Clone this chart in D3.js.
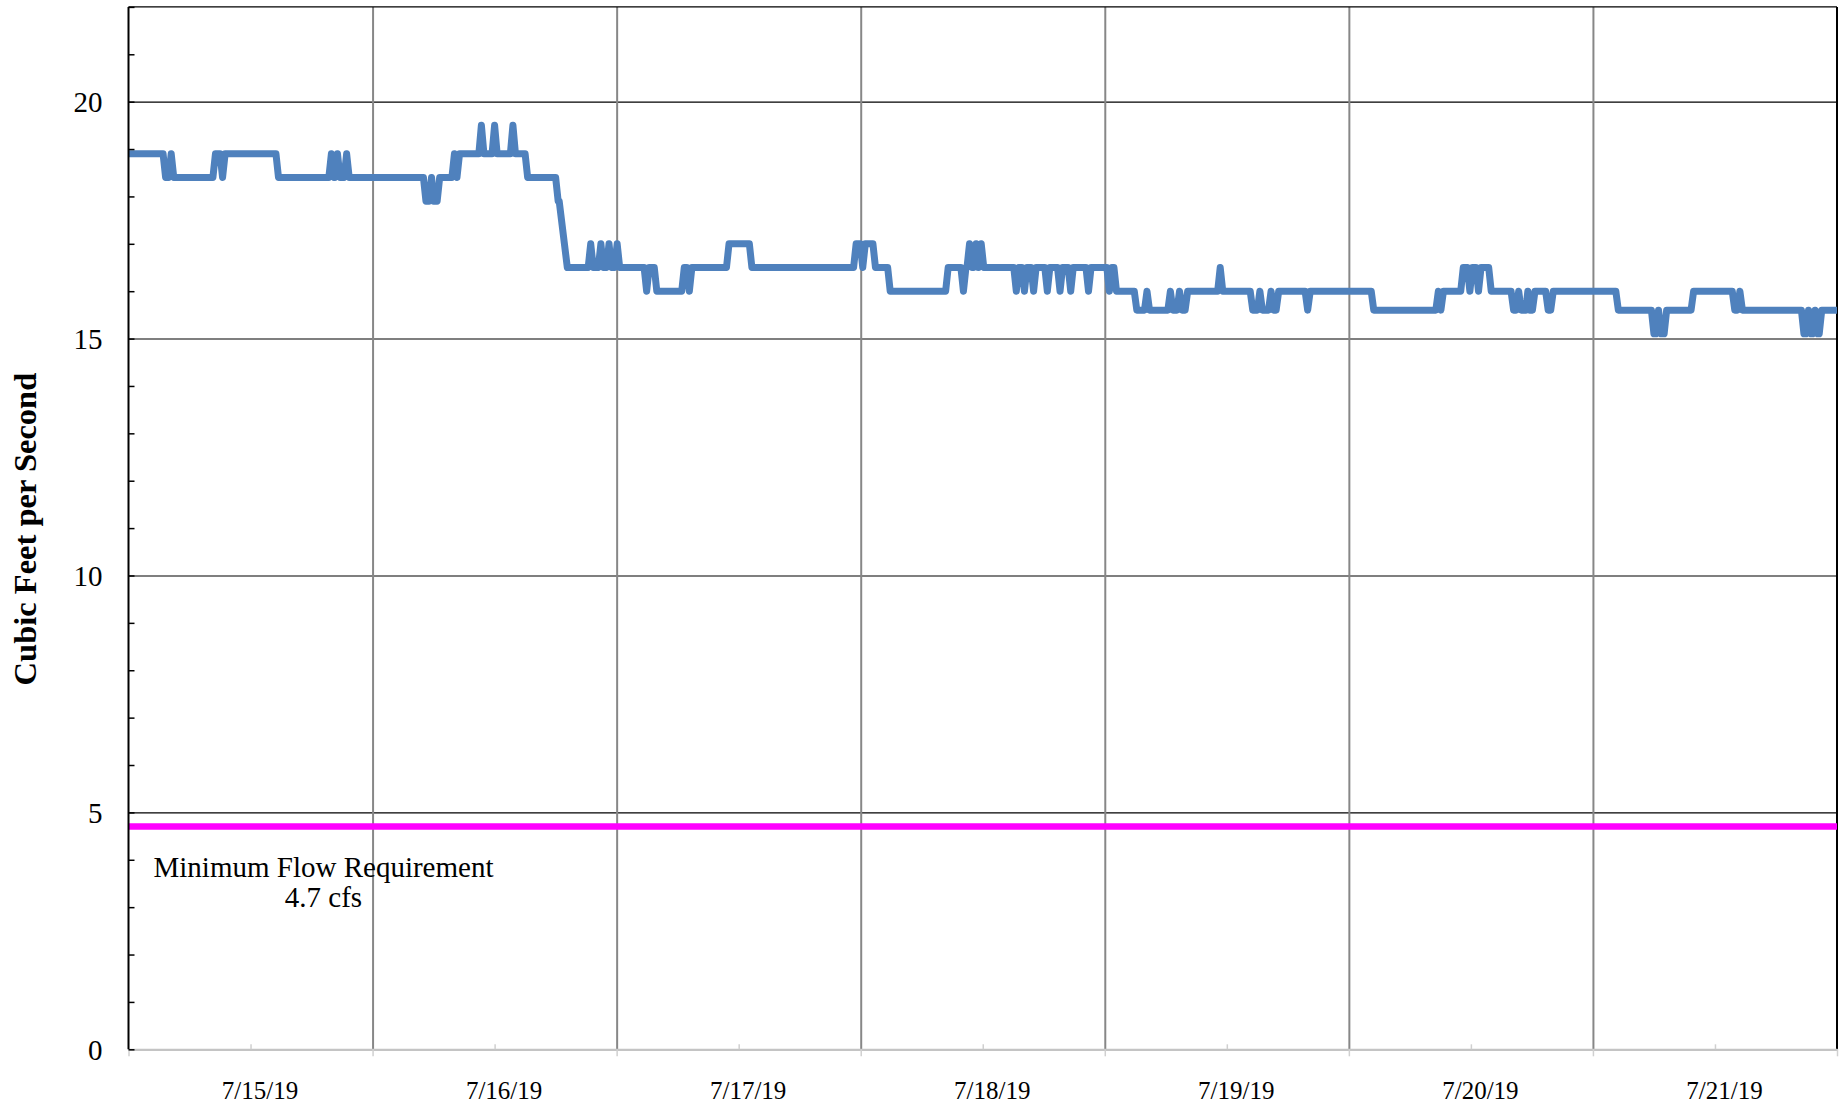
<!DOCTYPE html>
<html>
<head>
<meta charset="utf-8">
<script src="https://cdn.jsdelivr.net/npm/d3@7"></script>
<style>
  html, body { margin: 0; padding: 0; background: #ffffff; }
  svg { display: block; }
</style>
</head>
<body>
<svg id="chart" width="1839" height="1105"></svg>
<script>
// ---------------- DATA ----------------
// Hours after 7/15/19 00:00 at each vertex of the flow trace
const flowHours = [
  0, 3.4, 3.65, 3.95, 4.2, 4.45,
  8.3, 8.55, 9.0, 9.25, 9.5,
  14.5, 14.75,
  19.7, 19.95, 20.2, 20.3, 20.55, 20.8, 21.2, 21.45, 21.7,
  29.0, 29.25, 29.55, 29.8, 30.0, 30.35, 30.6,
  31.8, 32.05, 32.3, 32.55,
  34.45, 34.7, 34.95,
  35.75, 36.0, 36.25,
  37.55, 37.8, 38.05,
  39.0, 39.25,
  42.0, 42.25, 42.35, 43.15,
  45.2, 45.45, 45.7, 46.2, 46.45, 46.7, 47.0, 47.25, 47.5, 47.8, 48.05, 48.3,
  50.7, 50.95, 51.2, 51.7, 51.95,
  54.4, 54.65, 54.9, 55.15, 55.4,
  58.8, 59.05, 61.05, 61.3,
  71.3, 71.55, 71.95, 72.2, 72.45, 73.2, 73.45,
  74.65, 74.9,
  80.35, 80.6, 81.85, 82.1, 82.35, 82.45, 82.7, 82.95, 83.1, 83.35, 83.55, 83.6, 83.85, 84.1,
  87.05, 87.3, 87.55,
  87.85, 88.1, 88.35,
  88.75, 89.0, 89.25,
  90.1, 90.35, 90.6,
  91.35, 91.6, 91.85,
  92.4, 92.65, 92.9,
  94.15, 94.4, 94.65,
  96.2, 96.45, 96.7,
  96.9, 97.15,
  98.9, 99.15, 99.9, 100.15, 100.4,
  102.2, 102.45, 102.7, 103.1, 103.35, 103.6, 103.9, 104.15,
  107.1, 107.35, 107.6,
  110.3, 110.55, 111.0, 111.25, 111.5, 112.1, 112.35, 112.6, 112.85, 113.1,
  115.7, 115.95, 116.2,
  122.2, 122.45,
  128.55, 128.8, 129.05, 129.3,
  131.0, 131.25, 131.65, 131.9, 132.15, 132.5, 132.75, 133.0, 133.75, 134.0,
  135.95, 136.2, 136.45, 136.7, 136.95, 137.4, 137.6, 137.8, 138.05, 138.3,
  139.35, 139.6, 139.85, 140.1,
  146.25, 146.5,
  149.75, 150.0, 150.2, 150.45, 150.7, 151.0, 151.25,
  153.65, 153.9,
  157.7, 157.95, 158.2, 158.45, 158.7,
  164.5, 164.75, 164.95, 165.2, 165.45, 165.6, 165.85, 166.1, 166.25, 166.5,
  168
];
// Flow (cfs) at each vertex
const flowCfs = [
  18.9, 18.9, 18.4, 18.4, 18.9, 18.4,
  18.4, 18.9, 18.9, 18.4, 18.9,
  18.9, 18.4,
  18.4, 18.9, 18.4, 18.4, 18.9, 18.4, 18.4, 18.9, 18.4,
  18.4, 17.9, 17.9, 18.4, 17.9, 17.9, 18.4,
  18.4, 18.9, 18.4, 18.9,
  18.9, 19.5, 18.9,
  18.9, 19.5, 18.9,
  18.9, 19.5, 18.9,
  18.9, 18.4,
  18.4, 17.9, 17.9, 16.5,
  16.5, 17.0, 16.5, 16.5, 17.0, 16.5, 16.5, 17.0, 16.5, 16.5, 17.0, 16.5,
  16.5, 16.0, 16.5, 16.5, 16.0,
  16.0, 16.5, 16.5, 16.0, 16.5,
  16.5, 17.0, 17.0, 16.5,
  16.5, 17.0, 17.0, 16.5, 17.0, 17.0, 16.5,
  16.5, 16.0,
  16.0, 16.5, 16.5, 16.0, 16.5, 16.5, 17.0, 16.5, 16.5, 17.0, 16.5, 16.5, 17.0, 16.5,
  16.5, 16.0, 16.5,
  16.5, 16.0, 16.5,
  16.5, 16.0, 16.5,
  16.5, 16.0, 16.5,
  16.5, 16.0, 16.5,
  16.5, 16.0, 16.5,
  16.5, 16.0, 16.5,
  16.5, 16.0, 16.5,
  16.5, 16.0,
  16.0, 15.6, 15.6, 16.0, 15.6,
  15.6, 16.0, 15.6, 15.6, 16.0, 15.6, 15.6, 16.0,
  16.0, 16.5, 16.0,
  16.0, 15.6, 15.6, 16.0, 15.6, 15.6, 16.0, 15.6, 15.6, 16.0,
  16.0, 15.6, 16.0,
  16.0, 15.6,
  15.6, 16.0, 15.6, 16.0,
  16.0, 16.5, 16.5, 16.0, 16.5, 16.5, 16.0, 16.5, 16.5, 16.0,
  16.0, 15.6, 15.6, 16.0, 15.6, 15.6, 16.0, 15.6, 15.6, 16.0,
  16.0, 15.6, 15.6, 16.0,
  16.0, 15.6,
  15.6, 15.1, 15.1, 15.6, 15.1, 15.1, 15.6,
  15.6, 16.0,
  16.0, 15.6, 15.6, 16.0, 15.6,
  15.6, 15.1, 15.1, 15.6, 15.1, 15.1, 15.6, 15.1, 15.1, 15.6,
  15.6
];
const dayLabels = ["7/15/19", "7/16/19", "7/17/19", "7/18/19", "7/19/19", "7/20/19", "7/21/19"];
const yLabelTicks = [0, 5, 10, 15, 20];
const yGridTicks = [5, 10, 15, 20];
const yMinorTicks = d3.range(0, 23, 1);
const yMax = 22;
const minFlow = 4.7;
const minFlowText = ["Minimum Flow Requirement", "4.7 cfs"];
const yTitle = "Cubic Feet per Second";

// ---------------- LAYOUT ----------------
const pL = 128.5, pR = 1837, pT = 6.9, pB = 1049.3;
const serif = "'Liberation Serif', 'Times New Roman', Times, serif";
const t0 = new Date(2019, 6, 15, 0, 0, 0);
const t1 = new Date(2019, 6, 22, 0, 0, 0);
const hourToDate = h => new Date(t0.getTime() + h * 3600000);

const x = d3.scaleTime().domain([t0, t1]).range([pL, pR]);
const y = d3.scaleLinear().domain([0, yMax]).range([pB, pT]);

const svg = d3.select("#chart");
svg.append("rect").attr("width", 1839).attr("height", 1105).attr("fill", "#ffffff");

const midnights = d3.timeDay.range(t0, d3.timeDay.offset(t1, 1));        // 8 midnights
const noons = midnights.slice(0, 7).map(d => d3.timeHour.offset(d, 12));

// horizontal gridlines (black, thin)
svg.append("g")
  .attr("transform", `translate(${pL},0)`)
  .call(d3.axisLeft(y).tickValues(yGridTicks).tickSize(-(pR - pL)).tickFormat(""))
  .call(g => g.select(".domain").remove())
  .call(g => g.selectAll("line").attr("stroke", "#000").attr("stroke-width", 1.1));

// vertical gridlines at each midnight (gray)
svg.append("g")
  .attr("transform", `translate(0,${pB})`)
  .call(d3.axisBottom(x).tickValues(midnights.slice(1, 7)).tickSize(-(pB - pT)).tickFormat(""))
  .call(g => g.select(".domain").remove())
  .call(g => g.selectAll("line").attr("stroke", "#878787").attr("stroke-width", 2));

// top and right frame
svg.append("line").attr("x1", pL).attr("x2", pR).attr("y1", pT).attr("y2", pT)
  .attr("stroke", "#000").attr("stroke-width", 1.3);
svg.append("line").attr("x1", pR).attr("x2", pR).attr("y1", pT).attr("y2", pB)
  .attr("stroke", "#000").attr("stroke-width", 2);

// minimum flow line
svg.append("line")
  .attr("x1", x(t0)).attr("x2", x(t1))
  .attr("y1", y(minFlow)).attr("y2", y(minFlow))
  .attr("stroke", "#FF00FF").attr("stroke-width", 6.5);

// flow trace
const flowData = flowHours.map((h, i) => ({ date: hourToDate(h), cfs: flowCfs[i] }));
const line = d3.line().x(d => x(d.date)).y(d => y(d.cfs)).curve(d3.curveLinear);
svg.append("path")
  .datum(flowData)
  .attr("d", line)
  .attr("fill", "none")
  .attr("stroke", "#4F81BD")
  .attr("stroke-width", 7)
  .attr("stroke-linejoin", "round")
  .attr("stroke-linecap", "butt");

// bottom axis: gray line with ticks at midnights (down) and noons (up)
svg.append("g").attr("transform", `translate(0,${pB})`)
  .call(d3.axisBottom(x).tickValues(midnights).tickSize(7).tickSizeOuter(0).tickFormat(""))
  .call(g => g.select(".domain").attr("stroke", "#c4c4c4").attr("stroke-width", 2.2))
  .call(g => g.selectAll(".tick line").attr("stroke", "#d0d0d0").attr("stroke-width", 1.5));
svg.append("g").attr("transform", `translate(0,${pB})`)
  .call(d3.axisBottom(x).tickValues(noons).tickSize(-5).tickFormat(""))
  .call(g => g.select(".domain").remove())
  .call(g => g.selectAll(".tick line").attr("stroke", "#d0d0d0").attr("stroke-width", 1.5));

// day labels at noon
svg.append("g").attr("transform", `translate(9,${pB})`)
  .call(d3.axisBottom(x).tickValues(noons).tickSize(0).tickFormat((d, i) => dayLabels[i]))
  .call(g => g.select(".domain").remove())
  .call(g => g.selectAll("text")
    .attr("y", 50).attr("dy", 0)
    .attr("fill", "#000")
    .style("font-family", serif).style("font-size", "25px"));

// left axis: black line, minor ticks inside, labels
svg.append("g").attr("transform", `translate(${pL},0)`)
  .call(d3.axisRight(y).tickValues(yMinorTicks).tickSize(6).tickSizeOuter(0).tickFormat(""))
  .call(g => g.select(".domain").remove())
  .call(g => g.selectAll(".tick line").attr("stroke", "#000").attr("stroke-width", 1.5));
svg.append("g").attr("transform", `translate(${pL},0)`)
  .call(d3.axisLeft(y).tickValues(yLabelTicks).tickSize(0).tickPadding(26).tickFormat(d3.format("d")))
  .call(g => g.select(".domain").remove())
  .call(g => g.selectAll("text")
    .attr("fill", "#000").attr("dy", "0.34em")
    .style("font-family", serif).style("font-size", "29px"));
svg.append("line").attr("x1", pL).attr("x2", pL).attr("y1", pT).attr("y2", pB)
  .attr("stroke", "#000").attr("stroke-width", 2);

// y-axis title
svg.append("text")
  .attr("transform", `translate(36,${(pT + pB) / 2 + 1}) rotate(-90)`)
  .attr("text-anchor", "middle")
  .style("font-family", serif).style("font-size", "32.5px").style("font-weight", "bold")
  .attr("fill", "#000")
  .text(yTitle);

// minimum flow annotation
const ann = svg.append("text")
  .attr("text-anchor", "middle")
  .style("font-family", serif).style("font-size", "29px")
  .attr("fill", "#000");
ann.selectAll("tspan").data(minFlowText).join("tspan")
  .attr("x", 323.5)
  .attr("y", (d, i) => 877.3 + i * 30)
  .text(d => d);
</script>
</body>
</html>
